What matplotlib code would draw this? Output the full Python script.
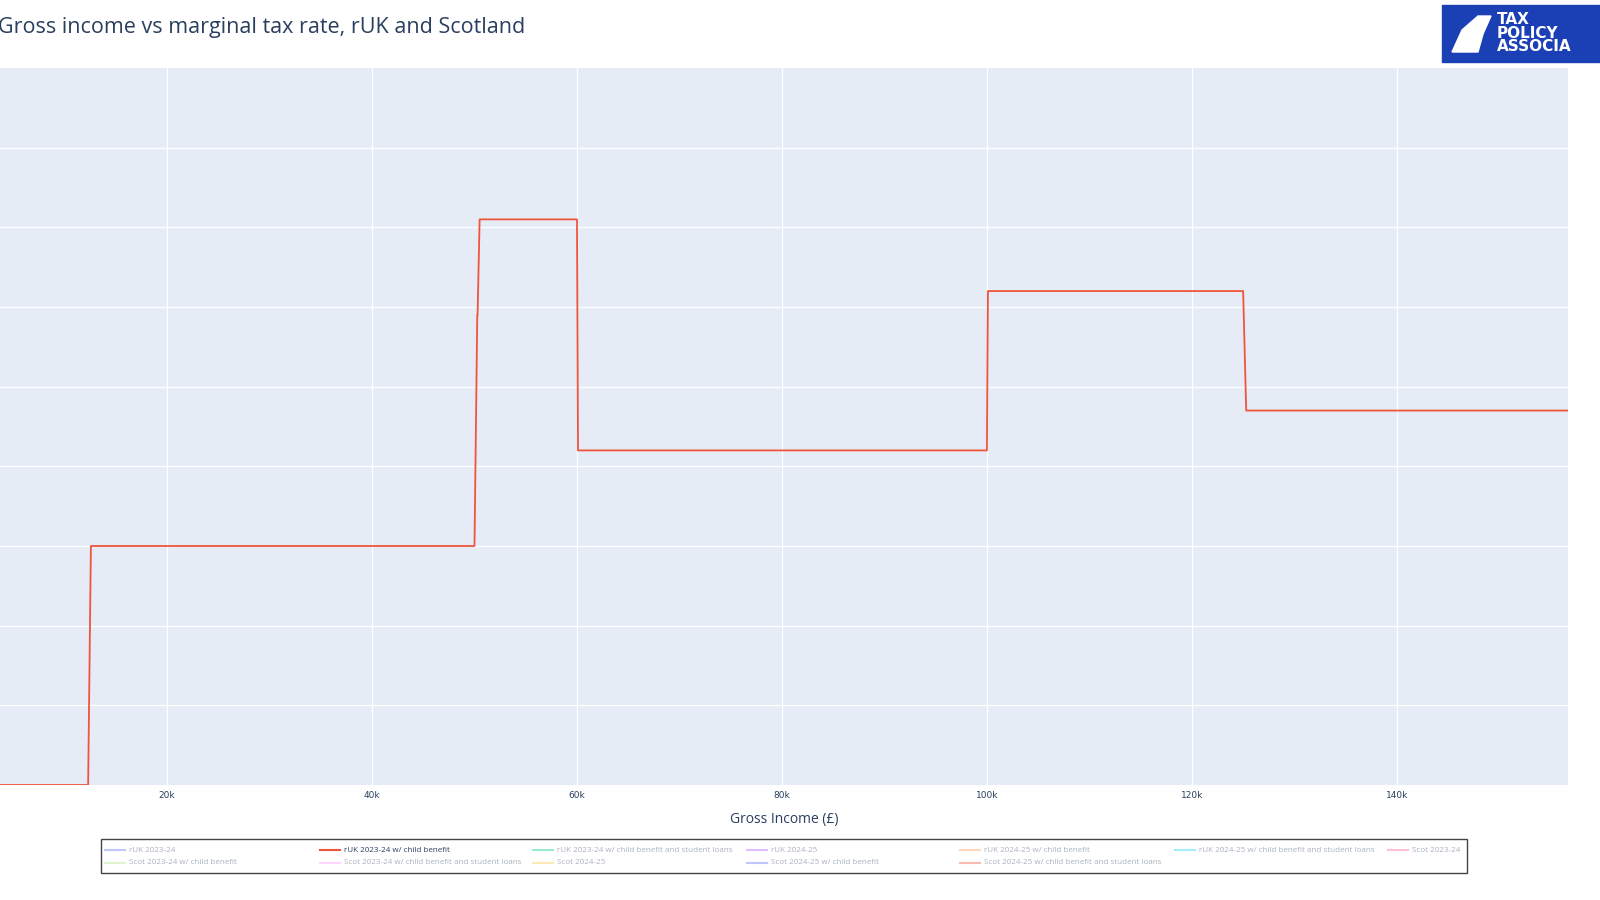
import matplotlib.pyplot as plt
from matplotlib.patches import Rectangle, Polygon
from matplotlib.lines import Line2D

# breakpoints of the marginal rate curve (rUK 2023-24 w/ child benefit)
income = [3700, 12300, 12570, 50000, 50270, 50300, 50500, 60000, 60100,
          100000, 100100, 125000, 125300, 157000]
rate = [0, 0, 0.30, 0.30, 0.59, 0.59, 0.71, 0.71, 0.42,
        0.42, 0.62, 0.62, 0.47, 0.47]

xticks = [20000, 40000, 60000, 80000, 100000, 120000, 140000]
xticklabels = ['20k', '40k', '60k', '80k', '100k', '120k', '140k']

legend_names = ['rUK 2023-24', 'rUK 2023-24 w/ child benefit',
                'rUK 2023-24 w/ child benefit and student loans', 'rUK 2024-25',
                'rUK 2024-25 w/ child benefit', 'rUK 2024-25 w/ child benefit and student loans',
                'Scot 2023-24', 'Scot 2023-24 w/ child benefit',
                'Scot 2023-24 w/ child benefit and student loans', 'Scot 2024-25',
                'Scot 2024-25 w/ child benefit', 'Scot 2024-25 w/ child benefit and student loans']
legend_colors = ['#636efa', '#EF553B', '#00cc96', '#ab63fa', '#FFA15A', '#19d3f3',
                 '#FF6692', '#B6E880', '#FF97FF', '#FECB52', '#636efa', '#EF553B']
visible = 'rUK 2023-24 w/ child benefit'

W, H = 1600, 900
fig = plt.figure(figsize=(16, 9), dpi=100)
ax = fig.add_axes([0, 1 - 785 / H, 1568 / W, (785 - 68) / H])
ax.set_facecolor('#e5ecf6')
ax.plot(income, rate, color='#EF553B', lw=1.3)
ax.set_xlim(3700, 156700)
ax.set_ylim(0, 0.9)
ax.set_xticks(xticks)
ax.set_xticklabels(xticklabels, fontsize=6.5, color='#2a3f5f')
ax.set_yticks([i / 10 for i in range(1, 9)])
ax.set_yticklabels([])
ax.grid(color='white', lw=0.9)
ax.set_axisbelow(True)
ax.tick_params(length=0, pad=4)
for s in ax.spines.values():
    s.set_visible(False)
ax.set_xlabel('Gross Income (£)', fontsize=10, color='#2a3f5f', family='Open Sans', labelpad=9)

fig.text(-2 / W, 1 - 27 / H, 'Gross income vs marginal tax rate, rUK and Scotland',
         fontsize=15.5, color='#2a3f5f', family='Open Sans', va='center')

# legend box
fig.add_artist(Rectangle((101 / W, 1 - 873 / H), 1366 / W, 34 / H, transform=fig.transFigure,
                         fill=False, ec='#444444', lw=1))
col_x = [105, 320, 533, 747, 960, 1175, 1388]
for i, (name, c) in enumerate(zip(legend_names, legend_colors)):
    row, col = divmod(i, 7)
    x0 = col_x[col]
    y0 = 1 - (850 + 13 * row) / H
    on = name == visible
    a = 1 if on else 0.4
    fig.add_artist(Line2D([x0 / W, (x0 + 20) / W], [y0, y0], transform=fig.transFigure,
                          color=c, lw=1.5, alpha=a))
    fig.text((x0 + 24) / W, y0, name, fontsize=5.8, color='#2a3f5f', alpha=a,
             va='center', family='Open Sans')

# logo
fig.add_artist(Rectangle((1442 / W, 1 - 62 / H), 160 / W, 57 / H, transform=fig.transFigure,
                         color='#1b3fb5'))
shape = [(1452, 52), (1462, 30), (1478, 16), (1491, 16), (1483, 34), (1478, 52)]
fig.add_artist(Polygon([(x / W, 1 - y / H) for x, y in shape], transform=fig.transFigure,
                       color='white'))
fig.text(1497 / W, 1 - 33 / H, 'TAX\nPOLICY\nASSOCIA', fontsize=11, color='white',
         weight='bold', va='center', linespacing=0.9, family='DejaVu Sans')

fig.savefig('out.png', dpi=100)
